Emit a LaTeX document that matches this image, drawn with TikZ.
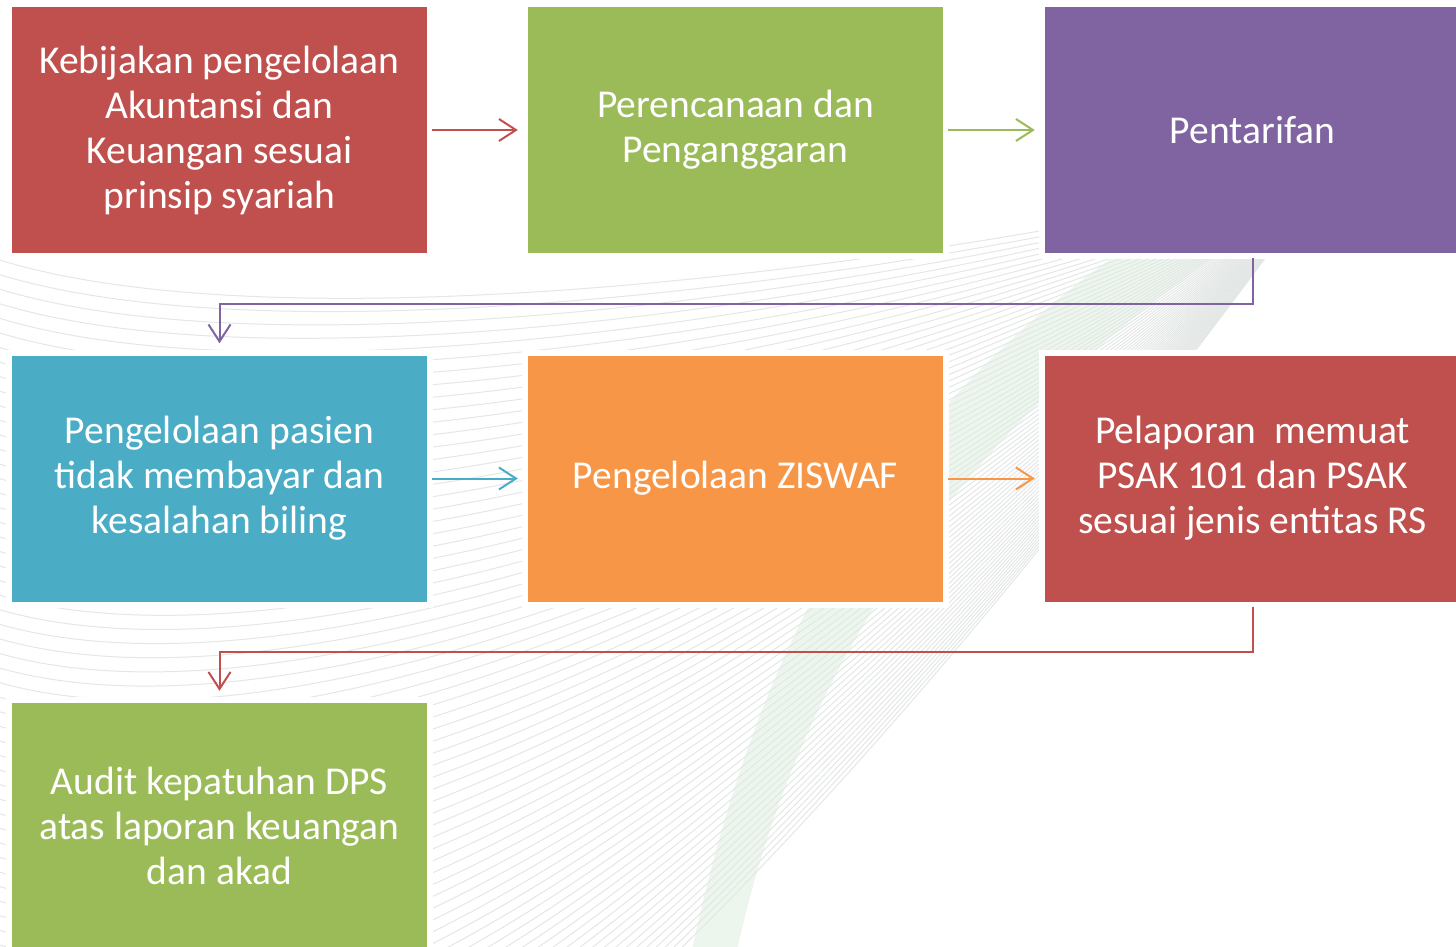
\documentclass[tikz,border=0pt]{standalone}
\usepackage{fontspec}
\setmainfont{Carlito}
\usetikzlibrary{arrows.meta}
\definecolor{cRed}{HTML}{C0504D}
\definecolor{cGreen}{HTML}{9BBB59}
\definecolor{cPurple}{HTML}{8064A2}
\definecolor{cBlue}{HTML}{4BACC6}
\definecolor{cOrange}{HTML}{F79646}
\definecolor{cWave}{HTML}{E3E7E5}
\definecolor{cSwoosh}{HTML}{D4ECD6}
\tikzset{
  box/.style={rectangle, minimum width=415pt, minimum height=246pt, inner sep=0pt,
    text=white, align=center, font=\fontsize{39.5}{45}\selectfont,
    preaction={draw=white, line width=12pt}},
  arr/.style={line width=2pt, -{Straight Barb[length=17pt,width=22pt,line width=2pt]}},
  wave/.style={draw=cWave, line width=1pt}
}
\begin{document}
\begin{tikzpicture}[x=1pt,y=-1pt]
\useasboundingbox (0,0) rectangle (1456,947);
\begin{scope}
\clip (0,0) rectangle (1456,947);
% background swoosh
\fill[cSwoosh, opacity=0.45] (735,960) .. controls (790,700) and (930,430) .. (1300,200)
   -- (1200,200) .. controls (900,380) and (760,620) .. (690,960) -- cycle;
\foreach \i in {0,...,72}{
  \pgfmathsetmacro{\s}{\i/72}
  \pgfmathsetmacro{\ys}{250+\s*1050}
  \pgfmathsetmacro{\cy}{\ys+110}
  \pgfmathsetmacro{\dx}{980-240*\s}
  \pgfmathsetmacro{\dy}{260+720*\s}
  \draw[wave] (-30,\ys) .. controls (260,\cy) and (\dx,\dy) .. (1330,170);
}
\end{scope}
% boxes
\node[box, fill=cRed]    (b1) at (219.5,130) {Kebijakan pengelolaan\\Akuntansi dan\\Keuangan sesuai\\prinsip syariah};
\node[box, fill=cGreen]  (b2) at (735.5,130) {Perencanaan dan\\Penganggaran};
\node[box, fill=cPurple] (b3) at (1252.5,130) {Pentarifan};
\node[box, fill=cBlue]   (b4) at (219.5,478.5) {Pengelolaan pasien\\tidak membayar dan\\kesalahan biling};
\node[box, fill=cOrange] (b5) at (735.5,478.5) {Pengelolaan ZISWAF};
\node[box, fill=cRed]    (b6) at (1252.5,478.5) {Pelaporan\ \ memuat\\PSAK 101 dan PSAK\\sesuai jenis entitas RS};
\node[box, fill=cGreen]  (b7) at (219.5,826) {Audit kepatuhan DPS\\atas laporan keuangan\\dan akad};
% connectors
\draw[arr, cRed, shorten <=5pt, shorten >=10pt] (b1) -- (b2);
\draw[arr, cGreen, shorten <=5pt, shorten >=10pt] (b2) -- (b3);
\draw[arr, cPurple, shorten <=5pt, shorten >=12pt] (b3.south) -- ++(0,51) -| (b4.north);
\draw[arr, cBlue, shorten <=5pt, shorten >=10pt] (b4) -- (b5);
\draw[arr, cOrange, shorten <=5pt, shorten >=10pt] (b5) -- (b6);
\draw[arr, cRed, shorten <=5pt, shorten >=12pt] (b6.south) -- ++(0,50) -| (b7.north);
\end{tikzpicture}
\end{document}
